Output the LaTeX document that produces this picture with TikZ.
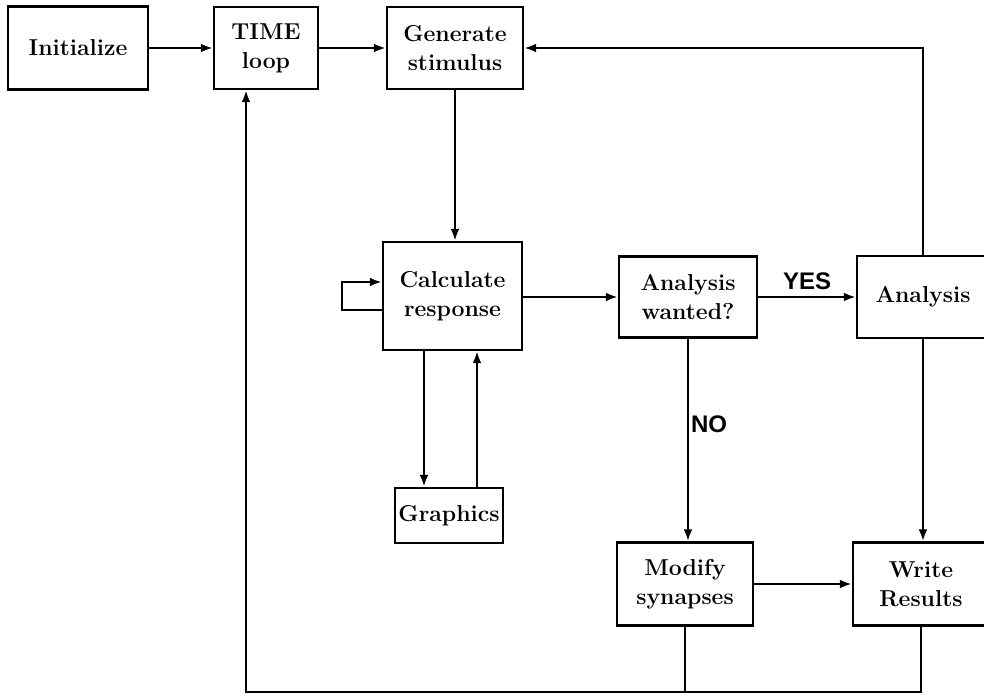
\documentclass[tikz,border=0pt]{standalone}
\usepackage{fontspec}
\newfontfamily\labelfont{Liberation Sans}
\usetikzlibrary{arrows.meta}
\begin{document}
\begin{tikzpicture}[x=0.5pt,y=-0.5pt,
  blk/.style={draw, line width=1.2pt, inner sep=0pt, align=center,
    font=\fontsize{11.5}{14.5}\selectfont\bfseries},
  arr/.style={line width=1.1pt, -{Latex[length=6pt,width=4.4pt]}},
  ln/.style={line width=1.1pt},
  lbl/.style={font=\labelfont\fontsize{12}{14}\selectfont\bfseries, inner sep=1pt}]
\clip (0,0) rectangle (984,696);
\fill[white] (0,0) rectangle (984,696);

\node[blk, minimum width=70pt, minimum height=41.5pt] (init) at (78,48) {Initialize};
\node[blk, minimum width=52pt, minimum height=41pt] (time) at (266,48) {TIME\\loop};
\node[blk, minimum width=68pt, minimum height=41pt] (gen) at (455,48) {Generate\\stimulus};
\node[blk, minimum width=69.5pt, minimum height=54pt] (calc) at (452.5,296) {Calculate\\response};
\node[blk, minimum width=69pt, minimum height=40.5pt] (aw) at (688,297) {Analysis\\wanted?};
\node[blk, minimum width=66pt, minimum height=41pt] (ana) at (923,297) {Analysis};
\node[blk, minimum width=54pt, minimum height=27.5pt] (gfx) at (449,515.5) {Graphics};
\node[blk, minimum width=68pt, minimum height=41.5pt] (mod) at (685,584) {Modify\\synapses};
\node[blk, minimum width=68pt, minimum height=41.5pt] (wr) at (921,584) {Write\\Results};

\coordinate (bot) at (246,692);

\draw[arr] (init.east) -- (init.east -| time.west);
\draw[arr] (time.east) -- (time.east -| gen.west);
\draw[arr] (gen.south) -- (gen.south |- calc.north);
\draw[arr] ([yshift=-7pt]calc.west) -- ++(-40,0) |- ([yshift=7pt]calc.west);
\draw[arr] (calc.east |- aw.west) -- (aw.west);
\draw[arr] (aw.east) -- node[lbl, above=2pt] {YES} (ana.west |- aw.east);
\draw[arr] (ana.north) |- (gen.east);
\draw[arr] (calc.south -| 424,0) -- (gfx.north -| 424,0);
\draw[arr] (gfx.north -| 477,0) -- (calc.south -| 477,0);
\draw[arr] (aw.south) -- node[lbl, right=0pt, pos=0.42] {NO} (aw.south |- mod.north);
\draw[arr] (ana.south) -- (ana.south |- wr.north);
\draw[arr] (mod.east) -- (wr.west);
\draw[ln] (mod.south) -- (mod.south |- bot);
\draw[arr] (wr.south) |- (bot) -- (bot |- time.south);
\end{tikzpicture}
\end{document}
